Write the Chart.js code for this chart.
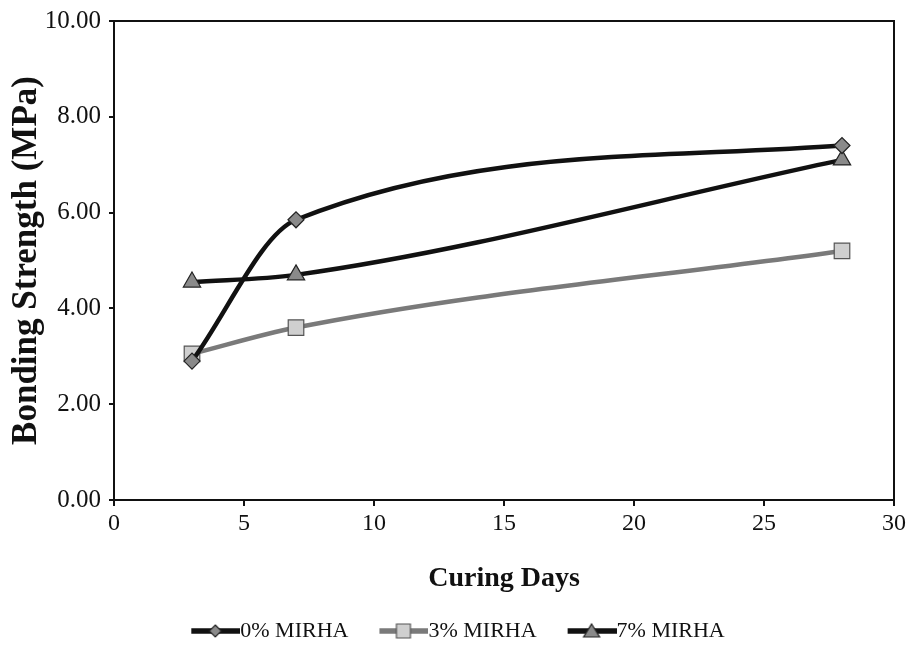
<!DOCTYPE html>
<html>
<head>
<meta charset="utf-8">
<script src="https://cdn.jsdelivr.net/npm/chart.js@4.4.0/dist/chart.umd.min.js"></script>
<style>
  html, body { margin: 0; padding: 0; background: #fff; }
  #wrap { width: 913px; height: 647px; }
</style>
</head>
<body>
<div id="wrap"><canvas id="chart" width="913" height="647"></canvas></div>
<script>
/***** Data *****/
const curingDays = [3, 7, 28];
const mirha0 = [2.9, 5.85, 7.4];
const mirha3 = [3.05, 3.6, 5.2];
const mirha7 = [4.55, 4.7, 7.1];
const seriesNames = ["0% MIRHA", "3% MIRHA", "7% MIRHA"];
const xTicks = [0, 5, 10, 15, 20, 25, 30];
const yTicks = [0, 2, 4, 6, 8, 10];

const serif = "'Liberation Serif', 'DejaVu Serif', serif";

// Turn x/y arrays into point objects for a linear x scale
const toPoints = (ys) => curingDays.map((d, i) => ({ x: d, y: ys[i] }));

// Legend picture: short thick line with the marker in the middle.
// Chart.js centres the image on the legend box; the drawing is kept in the right part
// so that it runs up to the label text
const legendIcon = (lineColor, style, fill, stroke) => {
  const c = document.createElement("canvas");
  c.width = 76;
  c.height = 18;
  const ctx = c.getContext("2d");
  const x0 = 27;
  const mid = x0 + 24;
  ctx.strokeStyle = lineColor;
  ctx.lineWidth = 5.5;
  ctx.beginPath();
  ctx.moveTo(x0, 9);
  ctx.lineTo(76, 9);
  ctx.stroke();
  ctx.fillStyle = fill;
  ctx.strokeStyle = stroke;
  ctx.lineWidth = 1.2;
  ctx.beginPath();
  if (style === "diamond") {
    ctx.moveTo(mid, 3);
    ctx.lineTo(mid + 6, 9);
    ctx.lineTo(mid, 15);
    ctx.lineTo(mid - 6, 9);
  } else if (style === "square") {
    ctx.rect(mid - 7, 2, 14, 14);
  } else {
    ctx.moveTo(mid, 2);
    ctx.lineTo(mid + 8, 15);
    ctx.lineTo(mid - 8, 15);
  }
  ctx.closePath();
  ctx.fill();
  ctx.stroke();
  return c;
};

const legendIcons = [
  legendIcon("#111", "diamond", "#8a8a8a", "#222"),
  legendIcon("#7a7a7a", "square", "#cfcfcf", "#555"),
  legendIcon("#111", "triangle", "#8a8a8a", "#222"),
];

// Draws the box round the plot area
const frame = {
  id: "frame",
  afterDatasetsDraw: (chart) => {
    const { ctx, chartArea } = chart;
    ctx.save();
    ctx.strokeStyle = "#111";
    ctx.lineWidth = 2;
    ctx.strokeRect(chartArea.left, chartArea.top, chartArea.right - chartArea.left, chartArea.bottom - chartArea.top);
    ctx.restore();
  },
};

new Chart(document.querySelector("#chart"), {
  type: "line",
  data: {
    datasets: [
      {
        label: seriesNames[0],
        data: toPoints(mirha0),
        borderColor: "#111",
        borderWidth: 4.5,
        pointStyle: "rectRot",
        pointRadius: 8,
        pointBackgroundColor: "#8a8a8a",
        pointBorderColor: "#222",
        pointBorderWidth: 1.2,
        cubicInterpolationMode: "monotone",
      },
      {
        label: seriesNames[1],
        data: toPoints(mirha3),
        borderColor: "#7a7a7a",
        borderWidth: 4.5,
        pointStyle: "rect",
        pointRadius: 11,
        pointBackgroundColor: "#cfcfcf",
        pointBorderColor: "#555",
        pointBorderWidth: 1.2,
        cubicInterpolationMode: "monotone",
      },
      {
        label: seriesNames[2],
        data: toPoints(mirha7),
        borderColor: "#111",
        borderWidth: 4.5,
        pointStyle: "triangle",
        pointRadius: 10,
        pointBackgroundColor: "#8a8a8a",
        pointBorderColor: "#222",
        pointBorderWidth: 1.2,
        cubicInterpolationMode: "monotone",
      },
    ],
  },
  options: {
    responsive: false,
    animation: false,
    layout: { padding: { top: 21, right: 19, left: 6, bottom: -5 } },
    plugins: {
      tooltip: { enabled: false },
      legend: {
        position: "bottom",
        labels: {
          usePointStyle: true,
          pointStyleWidth: 54,
          padding: 15,
          color: "#111",
          font: { family: serif, size: 22 },
          generateLabels: (chart) =>
            chart.data.datasets.map((ds, i) => ({
              text: ds.label,
              pointStyle: legendIcons[i],
              fillStyle: "transparent",
              strokeStyle: "transparent",
              lineWidth: 0,
              datasetIndex: i,
              fontColor: "#111",
            })),
        },
      },
    },
    scales: {
      x: {
        type: "linear",
        min: xTicks[0],
        max: xTicks[xTicks.length - 1],
        afterBuildTicks: (scale) => {
          scale.ticks = xTicks.map((v) => ({ value: v }));
        },
        afterFit: (scale) => {
          scale.height = 105;
        },
        grid: { display: true, drawOnChartArea: false, drawTicks: true, tickLength: 6, color: "#111", lineWidth: 2 },
        border: { display: true, color: "#111", width: 2 },
        ticks: {
          color: "#111",
          padding: 3,
          maxRotation: 0,
          font: { family: serif, size: 24 },
        },
        title: {
          display: true,
          text: "Curing Days",
          color: "#111",
          padding: { top: 4, bottom: 9 },
          font: { family: serif, size: 28, weight: "bold" },
        },
      },
      y: {
        min: yTicks[0],
        max: yTicks[yTicks.length - 1],
        afterBuildTicks: (scale) => {
          scale.ticks = yTicks.map((v) => ({ value: v }));
        },
        afterFit: (scale) => {
          scale.width = 108;
          // let the plot top sit at the layout padding, not below the "10.00" label
          scale.paddingTop = 0;
          scale.paddingBottom = 0;
        },
        grid: { display: true, drawOnChartArea: false, drawTicks: true, tickLength: 5, color: "#111", lineWidth: 2 },
        border: { display: true, color: "#111", width: 2 },
        ticks: {
          color: "#111",
          padding: 8,
          font: { family: serif, size: 25 },
          callback: (v) => Number(v).toFixed(2),
        },
        title: {
          display: true,
          text: "Bonding Strength (MPa)",
          color: "#111",
          padding: { top: 0, bottom: 4 },
          font: { family: serif, size: 35, weight: "bold" },
        },
      },
    },
  },
  plugins: [frame],
});
</script>
</body>
</html>
